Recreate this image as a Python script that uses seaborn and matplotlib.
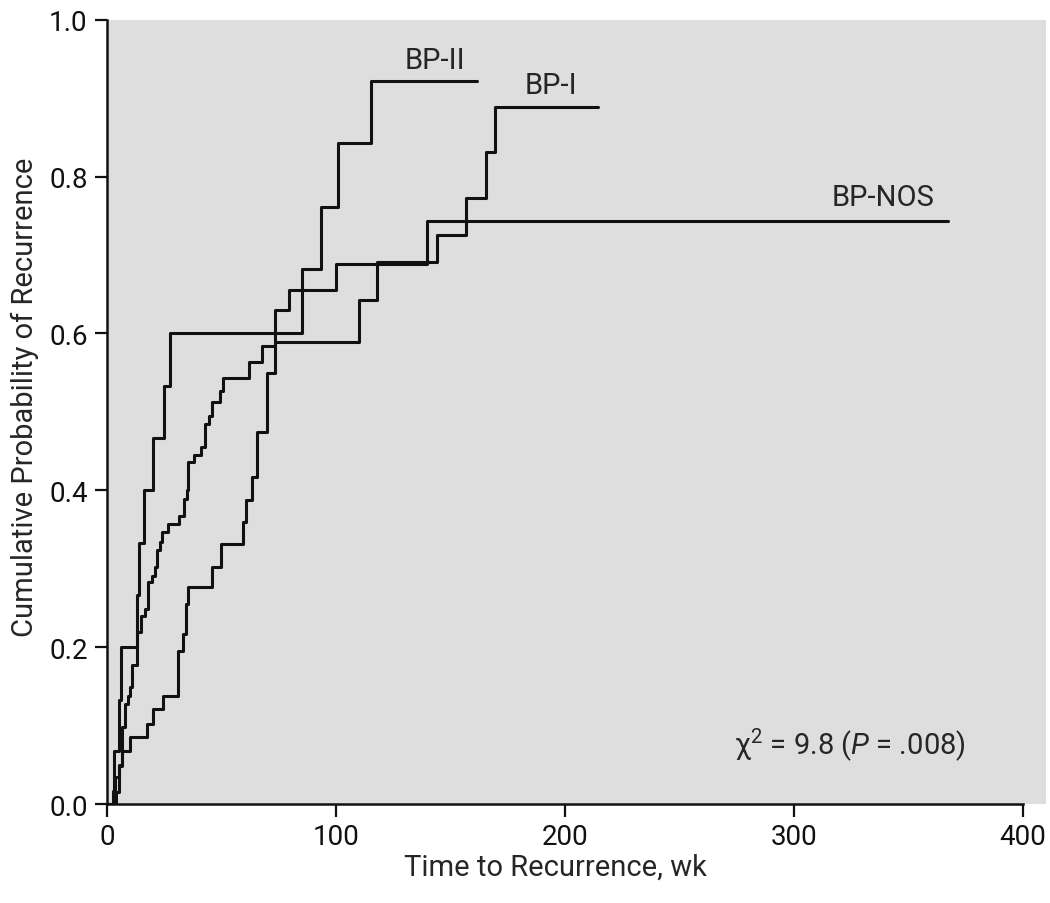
import matplotlib
matplotlib.use("Agg")
import matplotlib.pyplot as plt
import seaborn as sns
import pandas as pd

# ── data (weeks, cumulative probability) ──
bp2_time = [3.1, 5.2, 6.1, 13.1, 14.0, 16.2, 20.1, 24.9, 27.5, 85.2, 93.4, 100.9, 115.3]
bp2_prob = [0.067, 0.133, 0.200, 0.267, 0.333, 0.400, 0.467, 0.533, 0.600, 0.682, 0.761, 0.843, 0.922]
bp2_end = 161.6

bp1_time = [2.6, 3.5, 5.0, 6.5, 10.0, 17.5, 20.1, 24.5, 31.0, 33.2, 34.5, 35.4, 45.9, 49.8,
            59.4, 60.7, 63.3, 65.5, 69.9, 73.4, 110.0, 117.9, 144.1, 156.8, 165.5, 169.4]
bp1_prob = [0.017, 0.034, 0.050, 0.068, 0.085, 0.102, 0.121, 0.138, 0.195, 0.217, 0.255, 0.277, 0.302, 0.332,
            0.360, 0.388, 0.417, 0.474, 0.550, 0.589, 0.643, 0.691, 0.726, 0.773, 0.831, 0.889]
bp1_end = 214.4

nos_time = [3.9, 5.2, 6.6, 7.9, 9.2, 10.0, 10.9, 13.1, 14.8, 16.6, 17.9, 19.7, 21.0, 21.8, 23.1, 24.0,
            26.6, 31.4, 33.6, 34.9, 35.4, 38.0, 41.0, 42.8, 44.5, 45.9, 49.3, 50.7, 62.0, 67.7,
            73.4, 79.5, 100.0, 139.7]
nos_prob = [0.015, 0.048, 0.098, 0.128, 0.138, 0.149, 0.177, 0.219, 0.240, 0.249, 0.283, 0.291, 0.302, 0.324,
            0.334, 0.347, 0.357, 0.367, 0.389, 0.401, 0.436, 0.445, 0.455, 0.485, 0.495, 0.513, 0.527, 0.543,
            0.563, 0.584, 0.630, 0.656, 0.689, 0.744]
nos_end = 367.2

x_ticks = [0, 100, 200, 300, 400]
y_ticks = [0.0, 0.2, 0.4, 0.6, 0.8, 1.0]

def km_frame(name, t, p, end):
    tt = [0] + t + [end]
    pp = [0] + p + [p[-1]]
    return pd.DataFrame({"time": tt, "prob": pp, "group": name})

df = pd.concat([km_frame("BP-II", bp2_time, bp2_prob, bp2_end),
                km_frame("BP-I", bp1_time, bp1_prob, bp1_end),
                km_frame("BP-NOS", nos_time, nos_prob, nos_end)], ignore_index=True)

sns.set_style("ticks")
plt.rcParams["font.family"] = ["Roboto", "DejaVu Sans"]
plt.rcParams["mathtext.fontset"] = "custom"
plt.rcParams["mathtext.rm"] = "Roboto"
plt.rcParams["mathtext.it"] = "Roboto:italic"

fig = plt.figure(figsize=(10.5, 9.04), dpi=100)
ax = fig.add_axes([0.102, 0.1095, 0.894, 0.8675])
ax.set_facecolor("#dedede")

sns.lineplot(data=df, x="time", y="prob", hue="group", units="group", estimator=None, sort=False,
             palette=["#111111"] * 3, drawstyle="steps-post", linewidth=2.2, legend=False, ax=ax)

ax.set_xlim(0, 410); ax.set_ylim(0, 1.0)
ax.set_xticks(x_ticks); ax.set_yticks(y_ticks)
ax.set_yticklabels([f"{v:.1f}" for v in y_ticks])
for s in ["top", "right"]: ax.spines[s].set_visible(False)
for s in ["left", "bottom"]:
    ax.spines[s].set_linewidth(1.8); ax.spines[s].set_color("#111111")
ax.spines["bottom"].set_bounds(0, 400)
ax.tick_params(axis="both", direction="out", length=9, width=1.6, labelsize=20, colors="#111111", pad=5)
ax.set_xlabel("Time to Recurrence, wk", fontsize=21)
ax.set_ylabel("Cumulative Probability of Recurrence", fontsize=21)
ax.xaxis.set_label_coords(0.478, -0.062)
ax.yaxis.set_label_coords(-0.073, 0.52)

ax.text(143, 0.949, "BP-II", fontsize=21, ha="center", va="center")
ax.text(194, 0.917, "BP-I", fontsize=21, ha="center", va="center")
ax.text(339, 0.774, "BP-NOS", fontsize=21, ha="center", va="center")
ax.text(324.5, 0.0765, r"χ$^{2}$ = 9.8 ($\mathit{P}$ = .008)", fontsize=21, ha="center", va="center")

plt.savefig("out.png", dpi=100)
